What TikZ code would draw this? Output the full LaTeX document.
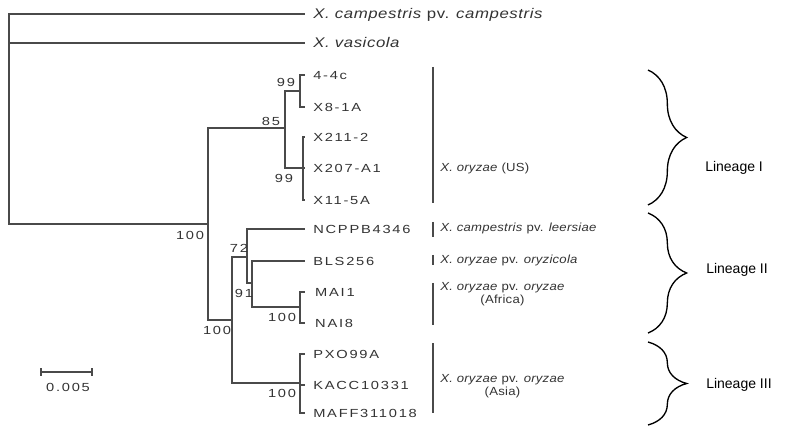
\documentclass[tikz,border=0pt]{standalone}
\usepackage{fontspec}
\setmainfont{Liberation Sans}
\newfontfamily\leaffont[FakeStretch=1.25,LetterSpace=15]{Liberation Sans}
\newfontfamily\groupfont[FakeStretch=1.12,LetterSpace=2]{Liberation Sans}
\newfontfamily\topfont[FakeStretch=1.2,LetterSpace=4]{Liberation Sans}
\usetikzlibrary{decorations.pathreplacing}
\definecolor{treegray}{HTML}{4A4A4A}
\definecolor{txtgray}{HTML}{333333}

\begin{document}
\begin{tikzpicture}[x=0.75pt,y=-0.75pt,
  branch/.style={draw=treegray,line width=0.9pt},
  leaf/.style={anchor=west,inner xsep=6pt,inner ysep=0pt,text height=6.5pt,text depth=0pt,text=txtgray,font=\leaffont\fontsize{8.8}{10}\selectfont},
  topleaf/.style={leaf,text height=7.5pt,font=\topfont\fontsize{10.5}{12}\selectfont},
  boot/.style={inner sep=0pt,text=txtgray,font=\leaffont\fontsize{8.8}{10}\selectfont},
  group/.style={anchor=west,align=center,inner sep=0pt,text=txtgray,font=\groupfont\fontsize{8.8}{9.6}\selectfont},
  lineage/.style={anchor=west,inner sep=0pt,font=\fontsize{10.5}{12}\selectfont},
  lbrace/.style={decorate,decoration={brace,amplitude=29pt},line width=1pt}]
\useasboundingbox (0,0) rectangle (795,427);
\node[topleaf] (xcc) at (305,14) {\textit{X. campestris} pv. \textit{campestris}};
\node[topleaf] (xvas) at (305,43) {\textit{X. vasicola}};
\foreach \n/\y/\t in {l44c/75/{4-4c},lx81a/107/{X8-1A},lx2112/137/{X211-2},lx207/168/{X207-A1},lx115/200/{X11-5A},
  lncppb/229/{NCPPB4346},lbls/261/{BLS256},lmai/292/{\,MAI1},lnai/323/{\,NAI8},
  lpxo/354/{PXO99A},lkacc/385/{KACC10331},lmaff/413/{MAFF311018}}
  \node[leaf] (\n) at (305,\y) {\t};
\coordinate (root) at (9,43);
\coordinate (nA) at (208,224);
\coordinate (n85) at (285,128);
\coordinate (n99a) at (300,91);
\coordinate (n99b) at (303,168);
\coordinate (n100b) at (232,320);
\coordinate (n72) at (247,257);
\coordinate (n91) at (252,283);
\coordinate (n100c) at (300,307);
\coordinate (n100d) at (300,383);
\draw[branch] (root) |- (xcc.west) (root) |- (xvas.west) (root) |- (nA);
\draw[branch] (nA) |- (n85) (nA) |- (n100b);
\draw[branch] (n85) |- (n99a) (n85) |- (n99b);
\draw[branch] (n99a) |- (l44c.west) (n99a) |- (lx81a.west);
\draw[branch] (n99b) |- (lx2112.west) (n99b) |- (lx207.west) (n99b) |- (lx115.west);
\draw[branch] (n100b) |- (n72) (n100b) |- (n100d);
\draw[branch] (n72) |- (lncppb.west) (n72) |- (n91);
\draw[branch] (n91) |- (lbls.west) (n91) |- (n100c);
\draw[branch] (n100c) |- (lmai.west) (n100c) |- (lnai.west);
\draw[branch] (n100d) |- (lpxo.west) (n100d) |- (lkacc.west) (n100d) |- (lmaff.west);
\foreach \n/\x/\y/\t in {b1/286/82/99,b2/271/121/85,b3/284/178/99,b4/190/235/100,b5/217/330/100,
  b6/239/248/72,b7/244/293/91,b8/282/317/100,b9/282/393/100}
  \node[boot] (\n) at (\x,\y) {\t};
\draw[branch] (41,368) -- (41,376) (41,372) -- (92,372) (92,368) -- (92,376);
\node[boot] (scale) at (68,387) {0.005};
\foreach \a/\b in {67/203,222/237,255/265,283/325,343/413}
  \draw[branch] (433,\a) -- (433,\b);
\node[group] (gus) at (440,168) {\textit{X. oryzae} (US)};
\node[group] (gleer) at (440,228) {\textit{X. campestris} pv. \textit{leersiae}};
\node[group] (goryc) at (440,260) {\textit{X. oryzae} pv. \textit{oryzicola}};
\node[group] (gafr) at (440,294) {\textit{X. oryzae} pv. \textit{oryzae}\\(Africa)};
\node[group] (gasia) at (440,386) {\textit{X. oryzae} pv. \textit{oryzae}\\(Asia)};
\draw[lbrace] (648,70) -- (648,205);
\draw[lbrace] (648,213) -- (648,333);
\draw[lbrace] (648,342) -- (648,425);
\node[lineage] (lin1) at (705,168) {Lineage I};
\node[lineage] (lin2) at (706,270) {Lineage II};
\node[lineage] (lin3) at (706,385) {Lineage III};
\end{tikzpicture}
\end{document}
